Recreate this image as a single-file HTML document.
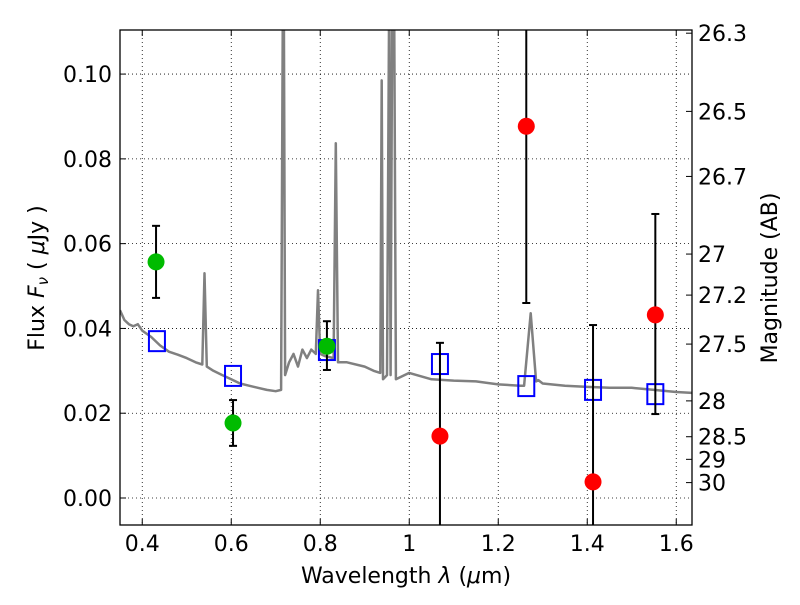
<!DOCTYPE html>
<html><head><meta charset="utf-8"><style>
html,body{margin:0;padding:0;background:#fff;}
svg text{font-family:"DejaVu Sans","Liberation Sans",sans-serif;fill:#000;}
</style></head><body>
<svg id="chart" width="800" height="600" viewBox="0 0 800 600">
<defs><clipPath id="clip"><rect x="120" y="30" width="572" height="495"/></clipPath></defs>
<rect x="0" y="0" width="800" height="600" fill="#fff"/>
<g id="grid"></g>
<g id="plot" clip-path="url(#clip)"></g>
<g id="axes"></g>
<rect x="120" y="30" width="572" height="495" fill="none" stroke="#000" stroke-width="1.3"/>
<text x="406" y="583" font-size="22" text-anchor="middle">Wavelength  <tspan font-style="italic">λ</tspan> (<tspan font-style="italic">μ</tspan>m)</text>
<text transform="translate(44,278) rotate(-90)" font-size="22" text-anchor="middle">Flux  <tspan font-style="italic">F</tspan><tspan font-style="italic" font-size="15" dy="4">ν</tspan><tspan dy="-4">  (  </tspan><tspan font-style="italic">μ</tspan>Jy )</text>
<text transform="translate(777,278) rotate(-90)" font-size="22" text-anchor="middle">Magnitude (AB)</text>
</svg>
<script>
const specWave=[0.350,0.36,0.37,0.38,0.39,0.40,0.42,0.44,0.46,0.48,0.50,0.52,0.535,0.540,0.545,0.56,0.58,0.60,0.62,0.64,0.66,0.68,0.70,0.712,0.716,0.718,0.721,0.73,0.74,0.75,0.76,0.77,0.78,0.79,0.795,0.80,0.81,0.83,0.835,0.84,0.86,0.90,0.92,0.935,0.938,0.941,0.95,0.955,0.958,0.962,0.966,0.97,1.0,1.05,1.1,1.15,1.2,1.25,1.258,1.273,1.285,1.29,1.3,1.35,1.4,1.45,1.5,1.55,1.6,1.635];
const specFlux=[0.0443,0.042,0.041,0.0405,0.041,0.0395,0.038,0.036,0.0345,0.0338,0.033,0.032,0.0315,0.053,0.031,0.030,0.029,0.028,0.027,0.0265,0.026,0.0255,0.0252,0.0255,0.12,0.12,0.029,0.032,0.034,0.031,0.035,0.033,0.035,0.034,0.049,0.034,0.0335,0.033,0.0837,0.032,0.032,0.031,0.030,0.0295,0.0985,0.028,0.029,0.12,0.029,0.12,0.12,0.028,0.0295,0.028,0.0277,0.0275,0.0268,0.0265,0.0265,0.0436,0.0275,0.0278,0.027,0.0265,0.0262,0.026,0.026,0.0255,0.025,0.0248];
const greenWave=[0.431,0.604,0.815];
const greenFlux=[0.0557,0.0177,0.0358];
const greenLo=[0.0472,0.0123,0.0302];
const greenHi=[0.0642,0.0231,0.0417];
const redWave=[1.069,1.263,1.413,1.553];
const redFlux=[0.0146,0.0877,0.0038,0.0432];
const redLo=[-0.02,0.046,-0.02,0.0198];
const redHi=[0.0366,0.15,0.0408,0.067];
const modelWave=[0.433,0.604,0.815,1.069,1.263,1.413,1.553];
const modelFlux=[0.0370,0.0288,0.0349,0.0316,0.0264,0.0255,0.0245];
const xTicks=[0.4,0.6,0.8,1.0,1.2,1.4,1.6];
const xTickLabels=["0.4","0.6","0.8","1","1.2","1.4","1.6"];
const yTicks=[0,0.02,0.04,0.06,0.08,0.10];
const yTickLabels=["0.00","0.02","0.04","0.06","0.08","0.10"];
const magTicks=[26.3,26.5,26.7,27,27.2,27.5,28,28.5,29,30];
const magTickLabels=["26.3","26.5","26.7","27","27.2","27.5","28","28.5","29","30"];

const X0=0.35,X1=1.6354,Y0=-0.00637,Y1=0.1104;
const L=120,R=692,T=30,B=525;
const sx=v=>L+(v-X0)/(X1-X0)*(R-L);
const sy=v=>B-(v-Y0)/(Y1-Y0)*(B-T);
const NS="http://www.w3.org/2000/svg";
function mk(parent,tag,attrs){const e=document.createElementNS(NS,tag);for(const k in attrs)e.setAttribute(k,attrs[k]);parent.appendChild(e);return e;}
const grid=document.getElementById('grid'),plot=document.getElementById('plot'),axes=document.getElementById('axes');

xTicks.forEach((t,i)=>{
  const x=sx(t);
  const g=mk(grid,'line',{x1:x,x2:x,y1:T,y2:B,stroke:'#000','stroke-width':0.8,'stroke-dasharray':'1,3'});
  
  
  mk(axes,'line',{x1:x,x2:x,y1:B,y2:B-6,stroke:'#000'});
  mk(axes,'line',{x1:x,x2:x,y1:T,y2:T+6,stroke:'#000'});
  const tx=mk(axes,'text',{x:x,y:B+26,'font-size':22,'text-anchor':'middle'});
  tx.textContent=xTickLabels[i];
  
  
});
yTicks.forEach((t,i)=>{
  const y=sy(t);
  const g=mk(grid,'line',{x1:L,x2:R,y1:y,y2:y,stroke:'#000','stroke-width':0.8,'stroke-dasharray':'1,3'});
  
  
  mk(axes,'line',{x1:L,x2:L+6,y1:y,y2:y,stroke:'#000'});
  const tx=mk(axes,'text',{x:L-8,y:y+8,'font-size':22,'text-anchor':'end'});
  tx.textContent=yTickLabels[i];
  
  
});
magTicks.forEach((m,i)=>{
  const y=sy(Math.pow(10,(23.9-m)/2.5));
  mk(axes,'line',{x1:R,x2:R-6,y1:y,y2:y,stroke:'#000'});
  const tx=mk(axes,'text',{x:R+6,y:y+8,'font-size':22,'text-anchor':'start'});
  tx.textContent=magTickLabels[i];
  
  
});

const pts=specWave.map((w,i)=>sx(w).toFixed(1)+','+sy(specFlux[i]).toFixed(1)).join(' ');
const sp=mk(plot,'polyline',{points:pts,fill:'none',stroke:'#808080','stroke-width':2.5,'stroke-linejoin':'round'});



modelWave.forEach((w,i)=>{
  const r=mk(plot,'rect',{x:sx(w)-8,y:sy(modelFlux[i])-10,width:16,height:20,fill:'none',stroke:'#0000ff','stroke-width':2});
  
  
});
function errPts(ws,fs,lo,hi,col,name){
  ws.forEach((w,i)=>{
    const x=sx(w);
    const l=mk(plot,'line',{x1:x,x2:x,y1:sy(lo[i]),y2:sy(hi[i]),stroke:'#000','stroke-width':2});
    
    
    [lo[i],hi[i]].forEach(v=>mk(plot,'line',{x1:x-4,x2:x+4,y1:sy(v),y2:sy(v),stroke:'#000','stroke-width':2}));
    const c=mk(plot,'circle',{cx:x,cy:sy(fs[i]),r:8.5,fill:col});
    
    
  });
}
errPts(greenWave,greenFlux,greenLo,greenHi,'#00bb00','detected-flux-point');
errPts(redWave,redFlux,redLo,redHi,'#ff0000','low-snr-flux-point');
</script>
</body></html>
